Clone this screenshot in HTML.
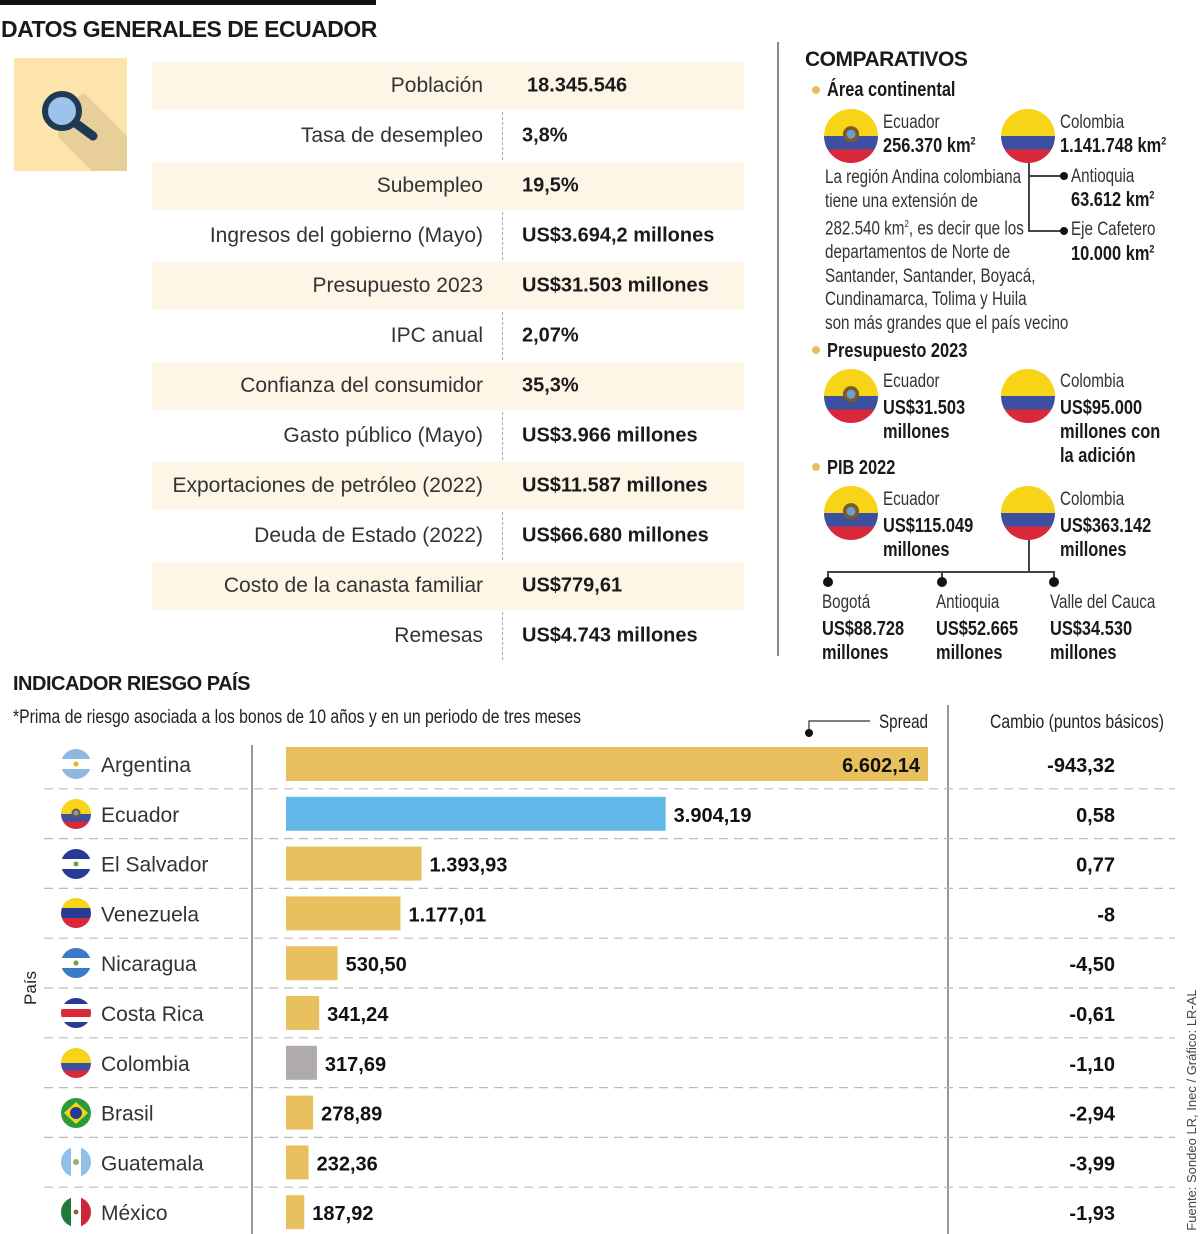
<!DOCTYPE html>
<html><head><meta charset="utf-8"><style>
body{margin:0;background:#fff;}
#root{position:relative;width:1200px;height:1234px;overflow:hidden;background:#fff;font-family:"Liberation Sans",sans-serif;color:#1a1a1a;}
.a{position:absolute;white-space:nowrap;}
.t{font-family:"Liberation Sans",sans-serif;}
.row{position:absolute;left:152px;width:592px;height:48px;}
.lab{position:absolute;right:717px;font-family:"Liberation Sans",sans-serif;font-size:21px;color:#333;transform:translateY(-50%);}
.val{position:absolute;left:522px;font-family:"Liberation Sans",sans-serif;font-weight:bold;font-size:20px;transform:translateY(-50%);}
.n{font-size:19px;color:#333;transform:scaleX(0.8);transform-origin:0 0;}
.b{font-size:20px;font-weight:bold;transform:scaleX(0.82);transform-origin:0 0;}
</style></head><body>
<div id="root">
<div class="a" style="left:0;top:0;width:376px;height:5px;background:#111"></div>
<div class="a t" style="left:1px;top:16px;font-size:23px;font-weight:bold;letter-spacing:-0.5px">DATOS GENERALES DE ECUADOR</div>
<svg class="a" style="left:14px;top:58px" width="113" height="113">
<rect width="113" height="113" fill="#fde4ad"/>
<polygon points="40,55 70,35 113,78 113,113 78,113 45,80" fill="#e8cf9a"/>
<line x1="52" y1="58" x2="79" y2="78" stroke="#1d3a52" stroke-width="9" stroke-linecap="round"/>
<circle cx="48" cy="53" r="17" fill="#9dc3ea" stroke="#1d3a52" stroke-width="6"/>
</svg>
<div class="a" style="left:502px;top:62px;height:598px;border-left:1.5px dashed #aaa"></div>
<div id="tbl"></div>
<div class="a" style="left:777px;top:42px;width:1.5px;height:614px;background:#888"></div>
<div class="a t" style="left:805px;top:48px;font-size:21px;font-weight:bold;letter-spacing:-0.5px">COMPARATIVOS</div>
<div id="comp"></div>
<div class="a t" style="left:13px;top:673px;font-size:20px;font-weight:bold;letter-spacing:-0.5px">INDICADOR RIESGO PAÍS</div>
<div class="a" style="left:13px;top:707px;font-size:19px;color:#222;transform:scaleX(0.83);transform-origin:0 0">*Prima de riesgo asociada a los bonos de 10 años y en un periodo de tres meses</div>
<svg class="a" style="left:0;top:0" width="1200" height="1234" id="chart"></svg>
</div>
<script>
const NS='http://www.w3.org/2000/svg';
const labels=['Población','Tasa de desempleo','Subempleo','Ingresos del gobierno (Mayo)','Presupuesto 2023','IPC anual','Confianza del consumidor','Gasto público (Mayo)','Exportaciones de petróleo (2022)','Deuda de Estado (2022)','Costo de la canasta familiar','Remesas'];
const vals=['18.345.546','3,8%','19,5%','US$3.694,2 millones','US$31.503 millones','2,07%','35,3%','US$3.966 millones','US$11.587 millones','US$66.680 millones','US$779,61','US$4.743 millones'];
const tbl=document.getElementById('tbl');
labels.forEach((l,i)=>{
  const cy=86+i*50;
  if(i%2===0){const r=document.createElement('div');r.className='row';r.style.top=(cy-24)+'px';r.style.background='#fdf5e6';
  
  tbl.appendChild(r);}
  const a=document.createElement('div');a.className='a lab';a.style.top=cy+'px';a.textContent=l;
  
  tbl.appendChild(a);
  const b=document.createElement('div');b.className='a val';b.style.top=cy+'px';if(i===0)b.style.left='527px';b.textContent=vals[i];
  
  tbl.appendChild(b);
});
function flagSVG(type,r){
  const d=2*r;let s=`<svg width="${d}" height="${d}" viewBox="0 0 30 30"><defs><clipPath id="c${type}${r}"><circle cx="15" cy="15" r="15"/></clipPath></defs><g clip-path="url(#c${type}${r})">`;
  const h=(ys)=>ys.map(([y,hh,c])=>`<rect x="0" y="${y}" width="30" height="${hh}" fill="${c}"/>`).join('');
  if(type==='ec'||type==='co')s+=h([[0,15,'#f7d417'],[15,7.5,'#3c4fa0'],[22.5,7.5,'#d9283a']]);
  if(type==='ec')s+='<circle cx="15" cy="14" r="4.5" fill="#7a5a2a"/><circle cx="15" cy="14" r="2.5" fill="#6ba0c8"/>';
  if(type==='ar')s+=h([[0,10,'#8fb8e0'],[10,10,'#fff'],[20,10,'#8fb8e0']])+'<circle cx="15" cy="15" r="2.5" fill="#f0b400"/>';
  if(type==='sv'||type==='ni')s+=h([[0,10,'#263a96'],[10,10,'#fff'],[20,10,'#263a96']])+'<circle cx="15" cy="15" r="2.5" fill="#7a9a40"/>';
  if(type==='ni')s=s.replace(/#263a96/g,'#3a7bc8');
  if(type==='ve')s+=h([[0,10,'#f7d417'],[10,10,'#263a96'],[20,10,'#d9283a']]);
  if(type==='cr')s+=h([[0,6,'#263a96'],[6,5,'#fff'],[11,8,'#d9283a'],[19,5,'#fff'],[24,6,'#263a96']]);
  if(type==='br')s+='<rect width="30" height="30" fill="#2a9a3a"/><polygon points="15,4 27,15 15,26 3,15" fill="#f7d417"/><circle cx="15" cy="15" r="6" fill="#263a96"/>';
  if(type==='gt')s+='<rect width="10" height="30" fill="#8fc0e8"/><rect x="10" width="10" height="30" fill="#fff"/><rect x="20" width="10" height="30" fill="#8fc0e8"/><circle cx="15" cy="15" r="3" fill="#9ab070"/>';
  if(type==='mx')s+='<rect width="10" height="30" fill="#1f7a3a"/><rect x="10" width="10" height="30" fill="#fff"/><rect x="20" width="10" height="30" fill="#c8283a"/><circle cx="15" cy="15" r="2.5" fill="#8a6a3a"/>';
  return s+'</g></svg>';
}
const comp=document.getElementById('comp');
function add(html,x,y,cls,name){const e=document.createElement('div');e.className='a '+(cls||'');e.style.left=x+'px';e.style.top=y+'px';e.innerHTML=html;
 
 comp.appendChild(e);return e;}
function flag(t,cx,cy,r,name){add(flagSVG(t,r),cx-r,cy-r,'',name);}
function dot(x,y,r){add(`<div style="width:${2*r}px;height:${2*r}px;border-radius:50%;background:#111"></div>`,x-r,y-r,'','bullet-dot');}
function dotY(x,y){add(`<div style="width:8px;height:8px;border-radius:50%;background:#e8be5a"></div>`,x-4,y-4,'','section-bullet');}
function line(x,y,w,h){add(`<div style="width:${w}px;height:${h}px;background:#444"></div>`,x,y,'','connector-line');}
dotY(816,90);add('Área continental',827,79,'b','area-heading');
flag('ec',851,136,27,'ecuador-flag');flag('co',1028,136,27,'colombia-flag');
add('Ecuador',883,112,'n','ecuador-label');add('256.370 km<sup style="font-size:11px">2</sup>',883,135,'b','ecuador-area');
add('Colombia',1060,112,'n','colombia-label');add('1.141.748 km<sup style="font-size:11px">2</sup>',1060,135,'b','colombia-area');
add('La región Andina colombiana<br>tiene una extensión de<br>282.540 km<sup style="font-size:10px">2</sup>, es decir que los<br>departamentos de  Norte de<br>Santander, Santander, Boyacá,<br>Cundinamarca, Tolima y Huila<br>son más grandes que el país vecino',825,166,'n','andina-note').style.lineHeight='23.6px';
line(1028,163,1.5,68);line(1028,175,34,1.5);line(1028,230,34,1.5);dot(1064,176,4);dot(1064,231,4);
add('Antioquia',1071,166,'n','antioquia-label');add('63.612 km<sup style="font-size:11px">2</sup>',1071,189,'b','antioquia-area');
add('Eje Cafetero',1071,219,'n','eje-label');add('10.000 km<sup style="font-size:11px">2</sup>',1071,243,'b','eje-area');
dotY(816,350);add('Presupuesto 2023',827,340,'b','presupuesto-heading');
flag('ec',851,396,27,'ecuador-flag');flag('co',1028,396,27,'colombia-flag');
add('Ecuador',883,371,'n','ecuador-label');add('US$31.503<br>millones',883,396,'b','ecuador-budget').style.lineHeight='24px';
add('Colombia',1060,371,'n','colombia-label');add('US$95.000<br>millones con<br>la adición',1060,396,'b','colombia-budget').style.lineHeight='24px';
dotY(816,467);add('PIB 2022',827,457,'b','pib-heading');
flag('ec',851,513,27,'ecuador-flag');flag('co',1028,513,27,'colombia-flag');
add('Ecuador',883,489,'n','ecuador-label');add('US$115.049<br>millones',883,514,'b','ecuador-pib').style.lineHeight='24px';
add('Colombia',1060,489,'n','colombia-label');add('US$363.142<br>millones',1060,514,'b','colombia-pib').style.lineHeight='24px';
line(1028,540,1.5,32);line(827,571,227,1.5);line(827,571,1.5,8);line(941,571,1.5,8);line(1053,571,1.5,8);
dot(828,582,5);dot(942,582,5);dot(1054,582,5);
[['Bogotá','US$88.728',822],['Antioquia','US$52.665',936],['Valle del Cauca','US$34.530',1050]].forEach(([a,b,x])=>{
 add(a,x,592,'n','region-label');add(b+'<br>millones',x,617,'b','region-pib').style.lineHeight='24px';});

// chart data
const countries=['Argentina','Ecuador','El Salvador','Venezuela','Nicaragua','Costa Rica','Colombia','Brasil','Guatemala','México'];
const flags=['ar','ec','sv','ve','ni','cr','co','br','gt','mx'];
const spread=[6602.14,3904.19,1393.93,1177.01,530.50,341.24,317.69,278.89,232.36,187.92];
const spreadLabels=['6.602,14','3.904,19','1.393,93','1.177,01','530,50','341,24','317,69','278,89','232,36','187,92'];
const cambio=['-943,32','0,58','0,77','-8','-4,50','-0,61','-1,10','-2,94','-3,99','-1,93'];
const x0=286,xScale=v=>x0+v*(642/6602.14);
const yC=i=>764+i*49.8;
const svg=document.getElementById('chart');
function el(tag,attrs,name,txt){const e=document.createElementNS(NS,tag);for(const k in attrs)e.setAttribute(k,attrs[k]);
 
 
 if(txt!==undefined)e.textContent=txt;svg.appendChild(e);return e;}
el('line',{x1:252,y1:745,x2:252,y2:1234,stroke:'#777','stroke-width':1.5},'y-axis-line');
el('line',{x1:948,y1:705,x2:948,y2:1234,stroke:'#777','stroke-width':1.5},'cambio-divider');
el('polyline',{points:'870,721 809,721 809,733',fill:'none',stroke:'#333','stroke-width':1.2},'spread-pointer');
el('circle',{cx:809,cy:733,r:4,fill:'#111'},'spread-pointer-dot');
el('text',{x:879,y:728,'font-size':19,fill:'#222',textLength:49,lengthAdjust:'spacingAndGlyphs'},'spread-header','Spread');
el('text',{x:990,y:728,'font-size':19,fill:'#222',textLength:174,lengthAdjust:'spacingAndGlyphs'},'cambio-header','Cambio (puntos básicos)');
el('text',{x:36,y:988,'text-anchor':'middle','font-size':17,fill:'#222',transform:'rotate(-90 36 988)'},'y-axis-title','País');
el('text',{x:1196,y:1110,'text-anchor':'middle','font-size':13,fill:'#444',transform:'rotate(-90 1196 1110)'},'source-note','Fuente: Sondeo LR, Inec / Gráfico: LR-AL');
countries.forEach((c,i)=>{
 const cy=yC(i);
 if(i>0)el('line',{x1:44,y1:cy-25,x2:1175,y2:cy-25,stroke:'#bbb','stroke-width':1.2,'stroke-dasharray':'9 6'},'row-separator');
 const g=document.createElementNS(NS,'foreignObject');g.setAttribute('x',61);g.setAttribute('y',cy-15);g.setAttribute('width',30);g.setAttribute('height',30);
 
 
 g.innerHTML=flagSVG(flags[i],15);svg.appendChild(g);
 el('text',{x:101,y:cy+8,'font-size':21,fill:'#333'},'country-label',c);
 const color=i===1?'#62b8e8':(i===6?'#aeaaad':'#e8c05e');
 const w=xScale(spread[i])-x0;
 el('rect',{x:x0,y:cy-17,width:w,height:34,fill:color},'bar-'+flags[i]);
 if(i===0)el('text',{x:xScale(spread[i])-8,y:cy+8,'text-anchor':'end','font-size':20,'font-weight':'bold',fill:'#111'},'value-label',spreadLabels[i]);
 else el('text',{x:xScale(spread[i])+8,y:cy+8,'font-size':20,'font-weight':'bold',fill:'#111'},'value-label',spreadLabels[i]);
 el('text',{x:1115,y:cy+8,'text-anchor':'end','font-size':20,'font-weight':'bold',fill:'#111'},'cambio-value',cambio[i]);
});
</script>
</body></html>
